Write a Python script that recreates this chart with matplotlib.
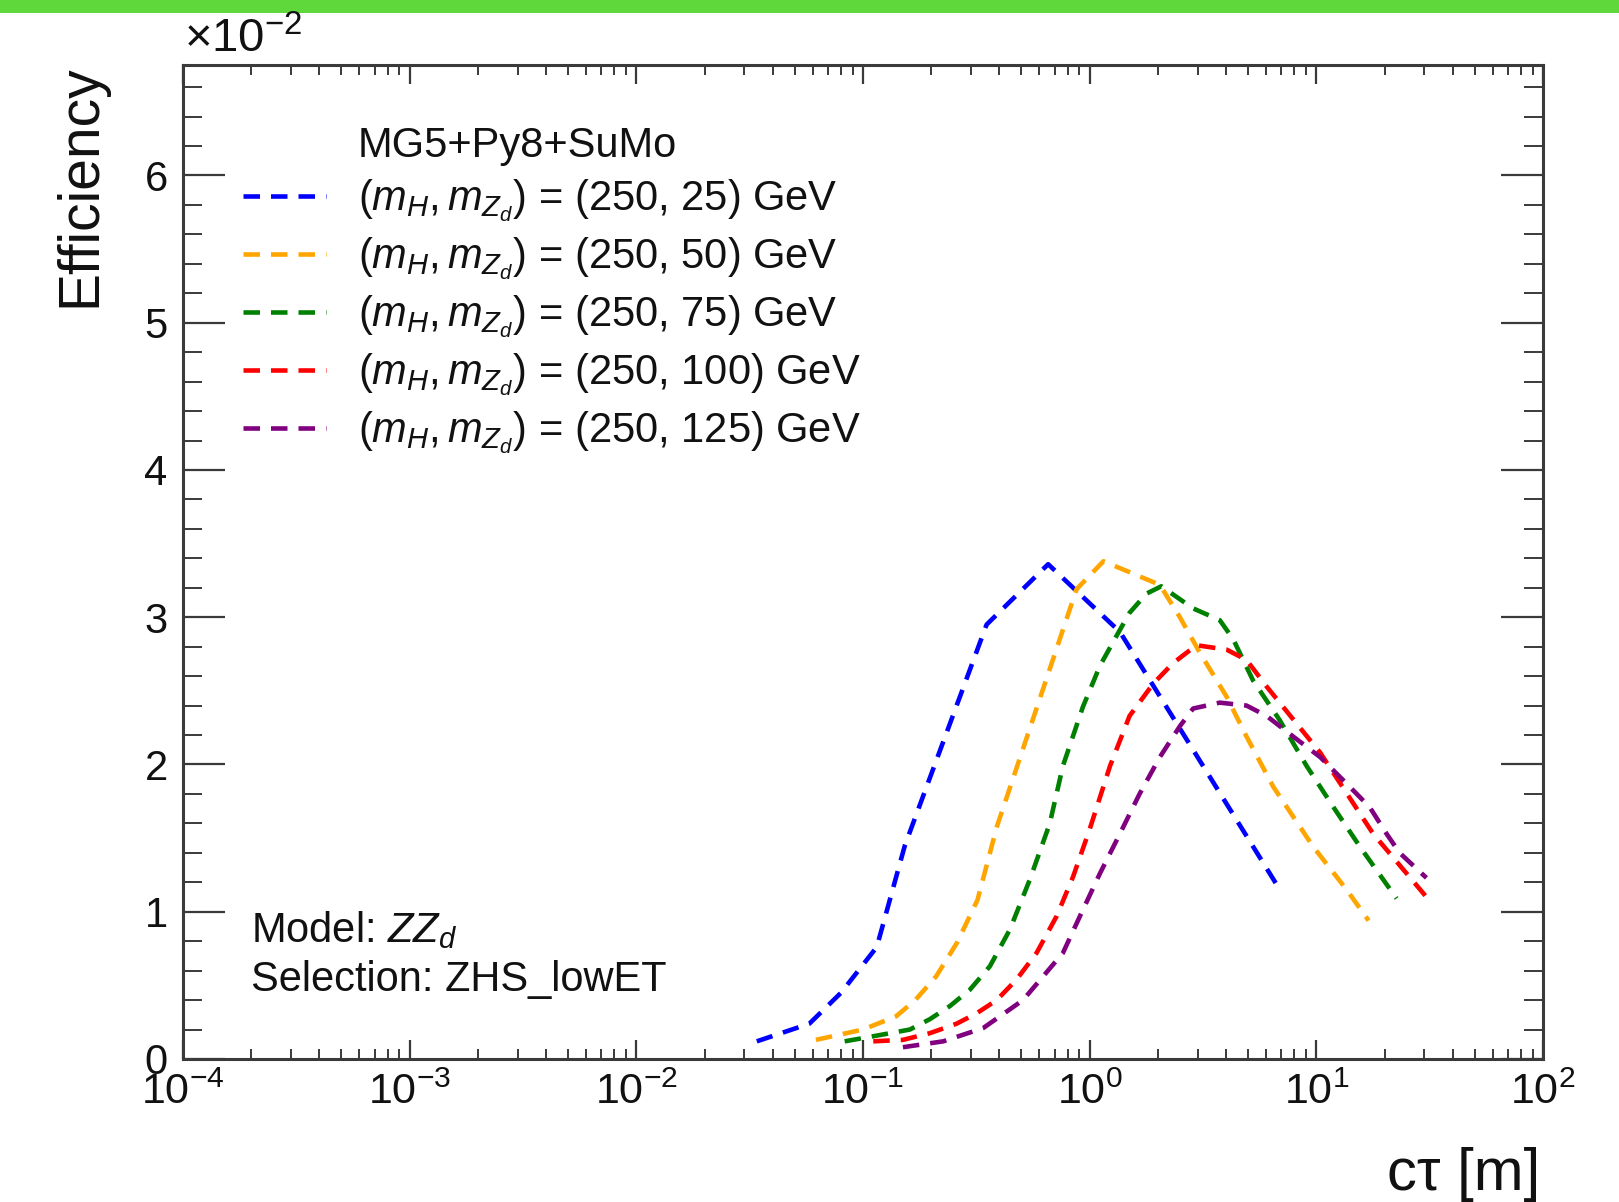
import matplotlib
matplotlib.use('Agg')
import matplotlib.pyplot as plt
from matplotlib.lines import Line2D
from matplotlib.patches import Rectangle
from matplotlib.ticker import LogLocator, MultipleLocator, NullFormatter, FixedFormatter, FixedLocator

plt.rcParams['font.family'] = ['Liberation Sans', 'DejaVu Sans']
plt.rcParams['mathtext.fontset'] = 'custom'
plt.rcParams['mathtext.rm'] = 'Liberation Sans'
plt.rcParams['mathtext.it'] = 'Liberation Sans:italic'
plt.rcParams['mathtext.bf'] = 'Liberation Sans:bold'

# ---------------- data (efficiency in units of 1e-2) ----------------
labels = [
    r'$(m_{H}, m_{Z_{d}})$ = (250, 25) GeV',
    r'$(m_{H}, m_{Z_{d}})$ = (250, 50) GeV',
    r'$(m_{H}, m_{Z_{d}})$ = (250, 75) GeV',
    r'$(m_{H}, m_{Z_{d}})$ = (250, 100) GeV',
    r'$(m_{H}, m_{Z_{d}})$ = (250, 125) GeV',
]
colors = ['#0000ff', '#ffa500', '#008000', '#ff0000', '#800080']

ctau_25 = [0.034, 0.058, 0.08, 0.115, 0.153, 0.351, 0.656, 1.36, 6.9]
eff_25 = [0.12, 0.24, 0.45, 0.76, 1.45, 2.95, 3.36, 2.90, 1.15]

ctau_50 = [0.062, 0.10, 0.14, 0.17, 0.21, 0.26, 0.32, 0.39, 0.875, 1.15, 2.04,
           2.5, 3.06, 4.02, 4.92, 6.45, 9.7, 13.6, 17.0]
eff_50 = [0.13, 0.20, 0.29, 0.40, 0.56, 0.79, 1.08, 1.58, 3.19, 3.38, 3.22,
          3.00, 2.76, 2.46, 2.19, 1.85, 1.44, 1.15, 0.94]

ctau_75 = [0.083, 0.107, 0.161, 0.197, 0.242, 0.296, 0.363, 0.445, 0.545, 0.667,
           0.762, 0.933, 1.11, 1.31, 1.50, 1.78, 2.07, 2.86, 3.75, 4.3, 5.26,
           6.9, 9.06, 11.9, 15.6, 22.6]
eff_75 = [0.12, 0.15, 0.20, 0.27, 0.36, 0.47, 0.63, 0.88, 1.22, 1.60,
          1.99, 2.39, 2.67, 2.87, 3.03, 3.16, 3.21, 3.06, 2.98, 2.85, 2.57,
          2.30, 1.99, 1.71, 1.44, 1.09]

ctau_100 = [0.111, 0.150, 0.197, 0.259, 0.317, 0.389, 0.476, 0.583, 0.715, 0.846,
            1.0, 1.23, 1.50, 1.91, 2.34, 2.96, 4.02, 4.92, 6.03, 10.4, 17.8, 30.6]
eff_100 = [0.12, 0.13, 0.175, 0.24, 0.31, 0.40, 0.54, 0.72, 0.97, 1.24,
           1.56, 1.99, 2.33, 2.55, 2.69, 2.81, 2.78, 2.71, 2.53, 2.08, 1.53, 1.10]

ctau_125 = [0.150, 0.226, 0.339, 0.508, 0.762, 0.906, 1.11, 1.36, 1.66, 2.04, 2.50,
            2.86, 3.75, 4.92, 6.03, 7.9, 10.4, 13.6, 17.2, 20.4, 23.3, 30.6]
eff_125 = [0.08, 0.12, 0.21, 0.40, 0.72, 0.97, 1.26, 1.53, 1.80, 2.05, 2.26,
           2.38, 2.42, 2.40, 2.33, 2.19, 2.05, 1.87, 1.71, 1.53, 1.40, 1.23]

xs = [ctau_25, ctau_50, ctau_75, ctau_100, ctau_125]
ys = [eff_25, eff_50, eff_75, eff_100, eff_125]

y_ticks = [0, 1, 2, 3, 4, 5, 6]
y_ticklabels = ['0', '1', '2', '3', '4', '5', '6']

# ---------------- figure ----------------
W, H = 1619, 1202
fig = plt.figure(figsize=(W / 100, H / 100), dpi=100)
fig.patch.set_facecolor('white')
fig.patches.append(Rectangle((0, 1 - 12.5 / H), 1, 12.5 / H, transform=fig.transFigure,
                             facecolor='#5fd83b', edgecolor='none', zorder=0))

ax = fig.add_axes([183 / W, 1 - 1059 / H, (1543 - 183) / W, (1059 - 65) / H])

LW = 3.3
DASH = (3.6, 2.4)
for x, y, c in zip(xs, ys, colors):
    ax.plot(x, y, color=c, lw=LW, dashes=DASH, dash_capstyle='butt')

ax.set_xscale('log')
ax.set_xlim(1e-4, 1e2)
ax.set_ylim(0, 6.75)

frame_c = '#3a3a3a'
for s in ax.spines.values():
    s.set_linewidth(2.2)
    s.set_color(frame_c)

ax.xaxis.set_major_locator(LogLocator(base=10, numticks=20))
ax.xaxis.set_minor_locator(LogLocator(base=10, subs=range(2, 10), numticks=100))
ax.xaxis.set_minor_formatter(NullFormatter())
ax.yaxis.set_major_locator(FixedLocator(y_ticks))
ax.yaxis.set_major_formatter(FixedFormatter(y_ticklabels))
ax.yaxis.set_minor_locator(MultipleLocator(0.2))

ax.tick_params(axis='both', which='both', direction='in', top=True, right=True,
               color=frame_c, labelcolor='#111111')
ax.tick_params(axis='x', which='major', length=14, width=1.6, pad=10, labelsize=31)
ax.tick_params(axis='x', which='minor', length=7, width=1.4)
ax.tick_params(axis='y', which='major', length=30, width=1.6, pad=11, labelsize=30)
ax.tick_params(axis='y', which='minor', length=14, width=1.4)

# axis titles (ROOT style)
fig.text(80 / W, 1 - 64 / H, 'Efficiency', rotation=90, ha='center', va='top',
         fontsize=41, color='#111111')
fig.text(1540 / W, 1 - 1174 / H, 'cτ [m]', ha='right', va='center',
         fontsize=43, color='#111111')
fig.text(184 / W, 1 - 52 / H, r'×10$^{-2}$', ha='left', va='baseline',
         fontsize=34, color='#111111')

# legend
handles = [Line2D([], [], color='none', label='MG5+Py8+SuMo')]
for c, lab in zip(colors, labels):
    handles.append(Line2D([], [], color=c, lw=LW, dashes=DASH, label=lab))
leg = ax.legend(handles=handles, loc='upper left',
                bbox_to_anchor=(243 / W, 1 - 126 / H), bbox_transform=fig.transFigure,
                frameon=False, fontsize=30, handlelength=2.0, handletextpad=0.75,
                labelspacing=0.27, borderpad=0, borderaxespad=0)
for t in leg.get_texts():
    t.set_color('#111111')

# annotations
ax.text(251 / W, 1 - 930 / H, r'Model: $ZZ_{d}$', transform=fig.transFigure,
        ha='left', va='center', fontsize=30, color='#111111')
ax.text(251 / W, 1 - 980 / H, 'Selection: ZHS_lowET', transform=fig.transFigure,
        ha='left', va='center', fontsize=30, color='#111111')

fig.savefig('out.png', dpi=100)
